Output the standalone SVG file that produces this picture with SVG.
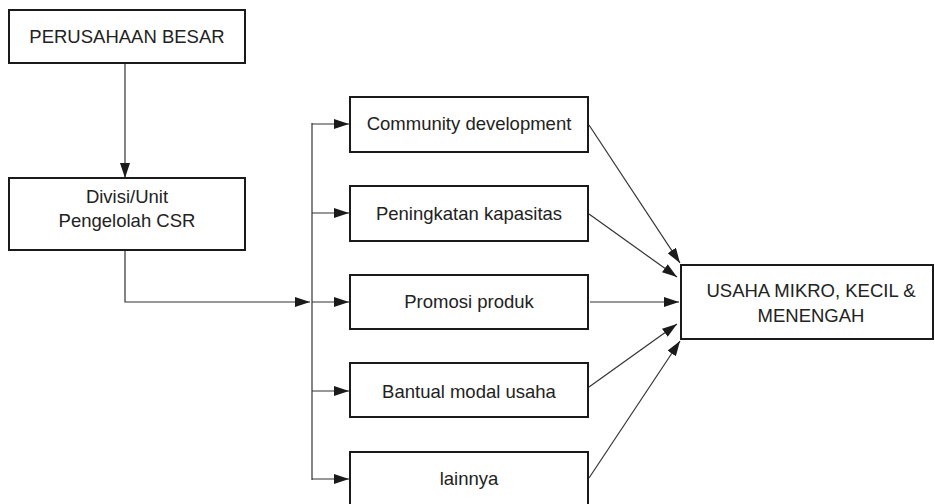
<svg xmlns="http://www.w3.org/2000/svg" width="935" height="504" viewBox="0 0 935 504">
<defs>
<marker id="ah" viewBox="0 0 15 10" refX="15" refY="5" markerWidth="15" markerHeight="10" markerUnits="userSpaceOnUse" orient="auto">
<path d="M0,0 L15,5 L0,10 Z" fill="#1a1a1a"/>
</marker>
</defs>
<style>
.box{fill:#fff;stroke:#1a1a1a;stroke-width:2}
.t{font-family:"Liberation Sans",Arial,sans-serif;font-size:18.5px;fill:#222;text-anchor:middle}
.c{fill:none;stroke:#333;stroke-width:1.2}
</style>
<rect width="935" height="504" fill="#fff"/>
<g id="connectors">
<path class="c" d="M125,63 V178" marker-end="url(#ah)"/>
<path class="c" d="M125,251 V302 H310" marker-end="url(#ah)"/>
<path class="c" d="M312,123 V480"/>
<path class="c" d="M312,124 H349" marker-end="url(#ah)"/>
<path class="c" d="M312,213 H349" marker-end="url(#ah)"/>
<path class="c" d="M312,302 H349" marker-end="url(#ah)"/>
<path class="c" d="M312,391 H349" marker-end="url(#ah)"/>
<path class="c" d="M312,479 H349" marker-end="url(#ah)"/>
<path class="c" d="M589,125 L680,263" marker-end="url(#ah)"/>
<path class="c" d="M589,214 L677,277" marker-end="url(#ah)"/>
<path class="c" d="M590,302 L679,302" marker-end="url(#ah)"/>
<path class="c" d="M589,387 L677,324" marker-end="url(#ah)"/>
<path class="c" d="M589,478 L680,341" marker-end="url(#ah)"/>
</g>
<g id="perusahaan">
<rect class="box" x="9" y="10" width="236" height="53"/>
<text class="t" x="127" y="43">PERUSAHAAN BESAR</text>
</g>
<g id="divisi">
<rect class="box" x="9" y="178" width="236" height="72"/>
<text class="t" x="127" y="203">Divisi/Unit</text>
<text class="t" x="127" y="227">Pengelolah CSR</text>
</g>
<g id="community">
<rect class="box" x="350" y="97" width="238" height="55"/>
<text class="t" x="469" y="130">Community development</text>
</g>
<g id="peningkatan">
<rect class="box" x="350" y="186" width="238" height="55"/>
<text class="t" x="469" y="220">Peningkatan kapasitas</text>
</g>
<g id="promosi">
<rect class="box" x="350" y="275" width="238" height="54"/>
<text class="t" x="469" y="308">Promosi produk</text>
</g>
<g id="bantual">
<rect class="box" x="350" y="363" width="238" height="54"/>
<text class="t" x="469" y="398">Bantual modal usaha</text>
</g>
<g id="lainnya">
<rect class="box" x="350" y="452" width="238" height="60"/>
<text class="t" x="469" y="485">lainnya</text>
</g>
<g id="umkm">
<rect class="box" x="681" y="265" width="252" height="74"/>
<text class="t" x="811" y="297">USAHA MIKRO, KECIL &amp;</text>
<text class="t" x="811" y="322">MENENGAH</text>
</g>
</svg>
